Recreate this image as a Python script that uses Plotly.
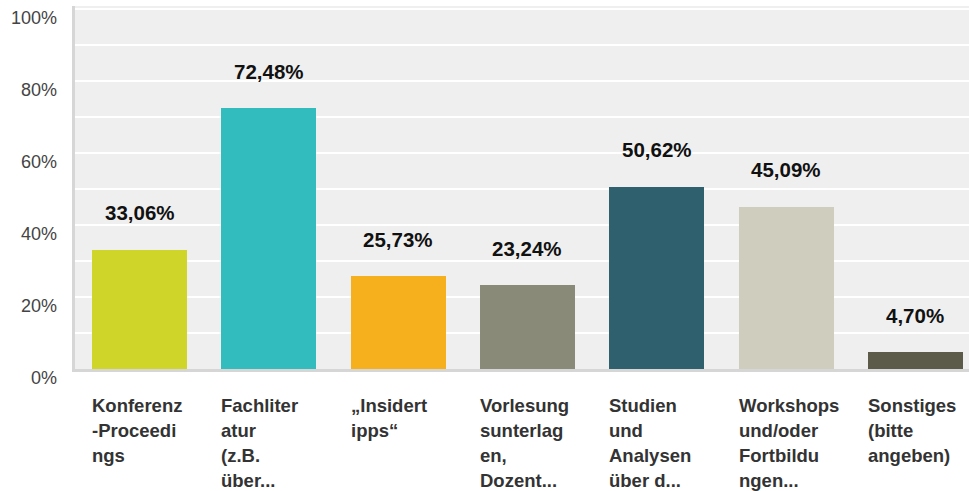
import plotly.graph_objects as go

# Survey answers (share of respondents, %)
categories = [
    "Konferenz-Proceedings",
    "Fachliteratur (z.B. über...",
    "„Insidertipps“",
    "Vorlesungsunterlagen, Dozent...",
    "Studien und Analysen über d...",
    "Workshops und/oder Fortbildungen...",
    "Sonstiges (bitte angeben)",
]
label_lines = [
    ["Konferenz", "-Proceedi", "ngs"],
    ["Fachliter", "atur", "(z.B.", "über..."],
    ["„Insidert", "ipps“"],
    ["Vorlesung", "sunterlag", "en,", "Dozent..."],
    ["Studien", "und", "Analysen", "über d..."],
    ["Workshops", "und/oder", "Fortbildu", "ngen..."],
    ["Sonstiges", "(bitte", "angeben)"],
]
values = [33.06, 72.48, 25.73, 23.24, 50.62, 45.09, 4.70]
colors = ["#D0D52A", "#33BCBD", "#F6B01E", "#8A8A78", "#2E616D", "#CFCDBE", "#5C5B4A"]
y_ticks = [0, 20, 40, 60, 80, 100]

FONT = "Liberation Sans, Arial, Helvetica, sans-serif"
BAR_W = 0.735
x_idx = list(range(len(categories)))

fig = go.Figure(
    go.Bar(
        x=x_idx,
        y=values,
        width=BAR_W,
        marker=dict(color=colors, line=dict(width=0)),
        hovertext=categories,
        hoverinfo="text+y",
    )
)

annotations = []
# value labels above each bar
for i, v in zip(x_idx, values):
    annotations.append(dict(
        x=i, y=v, xref="x", yref="y", yshift=37,
        text=f"<b>{v:.2f}%</b>".replace(".", ","),
        showarrow=False, xanchor="center", yanchor="middle",
        font=dict(family=FONT, size=20.5, color="#111111"),
    ))

# wrapped category labels under the axis, left aligned to the bar
for i, lines in zip(x_idx, label_lines):
    for k, line in enumerate(lines):
        annotations.append(dict(
            x=i - BAR_W / 2, y=0, xref="x", yref="y",
            xshift=-2, yshift=-36 - 25 * k,
            text=f"<b>{line}</b>",
            showarrow=False, xanchor="left", yanchor="middle",
            font=dict(family=FONT, size=18.5, color="#333333"),
        ))

# percentage tick labels on the left
for t in y_ticks:
    annotations.append(dict(
        x=0, y=t, xref="paper", yref="y", xshift=-16, yshift=-9,
        text=f"{t}%", showarrow=False, xanchor="right", yanchor="middle",
        font=dict(family=FONT, size=18, color="#444444"),
    ))

fig.update_layout(
    width=969, height=491,
    margin=dict(l=75, r=0, t=6, b=122),
    paper_bgcolor="white",
    plot_bgcolor="#EFEFEF",
    showlegend=False,
    bargap=0,
    annotations=annotations,
    font=dict(family=FONT),
    xaxis=dict(
        range=[-0.5, 6.415],
        showticklabels=False, showgrid=False, zeroline=False,
        showline=True, linecolor="#D6D6D6", linewidth=3,
        fixedrange=True,
    ),
    yaxis=dict(
        range=[0, 100.83], dtick=10, tick0=0,
        showticklabels=False,
        showgrid=True, gridcolor="#FFFFFF", gridwidth=2,
        zeroline=False,
        showline=True, linecolor="#D6D6D6", linewidth=3,
        fixedrange=True,
    ),
)

fig.write_html("out.html")
